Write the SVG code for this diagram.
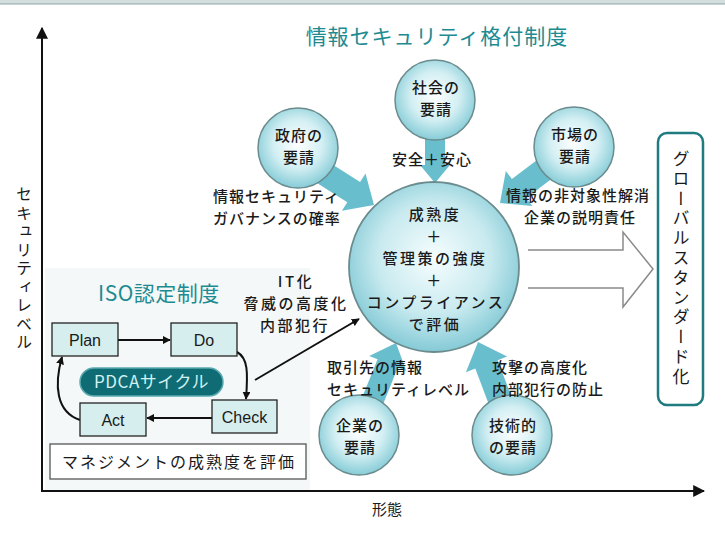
<svg xmlns="http://www.w3.org/2000/svg" width="725" height="540" viewBox="0 0 725 540">
<defs>
<radialGradient id="gc" cx="50%" cy="45%" r="55%">
<stop offset="0%" stop-color="#ffffff"/><stop offset="55%" stop-color="#d3eff3"/><stop offset="100%" stop-color="#86ccd7"/>
</radialGradient>
<radialGradient id="gm" cx="50%" cy="45%" r="55%">
<stop offset="0%" stop-color="#f6fdfe"/><stop offset="60%" stop-color="#c8eaef"/><stop offset="100%" stop-color="#84cad6"/>
</radialGradient>
<marker id="ah" viewBox="0 0 10 10" refX="9" refY="5" markerWidth="8" markerHeight="8" markerUnits="userSpaceOnUse" orient="auto">
<path d="M0,0 L10,5 L0,10 Z" fill="#111"/>
</marker>
<marker id="ahb" viewBox="0 0 10 10" refX="9" refY="5" markerWidth="12" markerHeight="12" markerUnits="userSpaceOnUse" orient="auto">
<path d="M0,0 L10,5 L0,10 Z" fill="#111"/>
</marker>
</defs>
<style>
text{font-family:"Noto Sans CJK JP","Noto Sans",sans-serif;fill:#1a1a1a}
.t{font-size:15px;letter-spacing:1px;font-weight:500}
.c{text-anchor:middle}
.ttl{font-size:21px;fill:#1d8b91;letter-spacing:1px}
.lat{font-family:"Liberation Sans",Arial,sans-serif;font-size:16px;text-anchor:middle}
.circ{fill:url(#gc);stroke:#6b8b8d;stroke-width:1.5}
.ta{fill:#5cb8c9;opacity:0.92}
.box{fill:#d6eeee;stroke:#222;stroke-width:1.3}
.ln{stroke:#111;stroke-width:2;fill:none}
</style>
<rect width="725" height="540" fill="#ffffff"/>
<rect x="0" y="0" width="725" height="4" fill="#d3dede"/>
<line x1="0" y1="4" x2="725" y2="4" stroke="#8fa5a5" stroke-width="1"/>
<rect x="45" y="268" width="265" height="222" fill="#f5f8f8"/>

<g id="axes">
<line x1="42" y1="492" x2="42" y2="28" stroke="#111" stroke-width="2" marker-end="url(#ahb)"/>
<line x1="42" y1="491" x2="704" y2="491" stroke="#111" stroke-width="2" marker-end="url(#ahb)"/>
<text x="24" y="186" style="writing-mode:vertical-rl;letter-spacing:2.5px;font-size:16px">セキュリティレベル</text>
<text class="c" x="387" y="515" font-size="15">形態</text>
</g>

<text class="ttl c" x="437" y="44">情報セキュリティ格付制度</text>

<g id="connectors">
<polygon class="ta" points="307.3,148.5 360.1,182.0 365.5,173.5 374,205 341.9,210.7 347.3,202.2 294.5,168.7"/>
<polygon class="ta" points="425,125 445,125 445,165 450,165 435,183 420,165 425,165"/>
<polygon class="ta" points="566.8,137.4 511.9,178.9 505.8,171.0 500,203 532.4,206.0 526.3,198.1 581.2,156.6"/>
<polygon class="ta" points="349.8,427.9 377.6,359.3 369.2,355.9 396,343 406.3,370.9 397.9,367.5 370.2,436.1"/>
<polygon class="ta" points="500.8,436.2 475.3,368.6 465.9,372.2 478,342 507.1,356.6 497.7,360.2 523.2,427.8"/>
<path d="M528,250 H623 V232 L653,269 L623,307 V288 H528" fill="#ffffff" stroke="#8a8a8a" stroke-width="1.5"/>
<line x1="255" y1="380" x2="359" y2="319" stroke="#111" stroke-width="2" marker-end="url(#ah)"/>
<line x1="118" y1="340" x2="170" y2="340" class="ln" marker-end="url(#ah)"/>
<line x1="212" y1="418" x2="147" y2="418" class="ln" marker-end="url(#ah)"/>
<path d="M237,352 C248,358 248,372 246,399" class="ln" marker-end="url(#ah)"/>
<path d="M80,420 C56,412 54,385 62,357" class="ln" marker-end="url(#ah)"/>
</g>

<g id="center">
<circle cx="434" cy="267" r="85" fill="url(#gm)" stroke="#6b8b8d" stroke-width="1.8"/>
<text class="c" style="font-size:15px;letter-spacing:2.5px;font-weight:500"><tspan x="435" y="220">成熟度</tspan><tspan x="435" y="242">＋</tspan><tspan x="435" y="264">管理策の強度</tspan><tspan x="435" y="286">＋</tspan><tspan x="436" y="308">コンプライアンス</tspan><tspan x="435" y="330">で評価</tspan></text>
</g>

<g id="shakai">
<circle class="circ" cx="435" cy="100" r="40"/>
<text class="t c"><tspan x="436" y="93">社会の</tspan><tspan x="436" y="115">要請</tspan></text>
</g>
<g id="seifu">
<circle class="circ" cx="298" cy="148" r="40"/>
<text class="t c"><tspan x="299" y="141">政府の</tspan><tspan x="299" y="163">要請</tspan></text>
</g>
<g id="shijo">
<circle class="circ" cx="574" cy="147" r="40"/>
<text class="t c"><tspan x="575" y="140">市場の</tspan><tspan x="575" y="162">要請</tspan></text>
</g>
<g id="kigyo">
<circle class="circ" cx="359" cy="435" r="40"/>
<text class="t c"><tspan x="360" y="431">企業の</tspan><tspan x="360" y="453">要請</tspan></text>
</g>
<g id="gijutsu">
<circle class="circ" cx="512" cy="435" r="40"/>
<text class="t c"><tspan x="513" y="431">技術的</tspan><tspan x="513" y="453">の要請</tspan></text>
</g>

<g id="labels">
<text class="t c" x="432" y="165">安全＋安心</text>
<text class="t"><tspan x="213" y="202">情報セキュリティ</tspan><tspan x="213" y="224">ガバナンスの確率</tspan></text>
<text class="t c"><tspan x="578" y="201">情報の非対象性解消</tspan><tspan x="580" y="223">企業の説明責任</tspan></text>
<text class="t c" style="font-size:15px;letter-spacing:2.5px"><tspan x="296" y="287">IT化</tspan><tspan x="296" y="309">脅威の高度化</tspan><tspan x="295" y="331">内部犯行</tspan></text>
<text class="t"><tspan x="327" y="373">取引先の情報</tspan><tspan x="327" y="395">セキュリティレベル</tspan></text>
<text class="t"><tspan x="492" y="373">攻撃の高度化</tspan><tspan x="492" y="395">内部犯行の防止</tspan></text>
</g>

<g id="global">
<rect x="658" y="133" width="45" height="272" rx="9" fill="#ffffff" stroke="#1e7b80" stroke-width="2.5"/>
<text x="681" y="150" style="writing-mode:vertical-rl;letter-spacing:2.8px;font-size:17px">グローバルスタンダード化</text>
</g>

<text class="ttl" x="98" y="301" font-size="20" style="letter-spacing:0.5px">ISO認定制度</text>

<g id="plan"><rect class="box" x="52" y="323" width="66" height="33"/><text class="lat" x="85" y="346">Plan</text></g>
<g id="do"><rect class="box" x="171" y="323" width="66" height="33"/><text class="lat" x="204" y="346">Do</text></g>
<g id="check"><rect class="box" x="212" y="400" width="65" height="33"/><text class="lat" x="244.5" y="423">Check</text></g>
<g id="act"><rect class="box" x="80" y="403" width="66" height="33"/><text class="lat" x="113" y="426">Act</text></g>
<g id="pdca">
<rect x="80" y="368" width="143" height="28" rx="14" fill="#0f6c74" stroke="#5aa9ae" stroke-width="1.5"/>
<text class="c" x="151.5" y="388" font-size="17" style="fill:#d4f1f1;letter-spacing:0.5px">PDCAサイクル</text>
</g>
<g id="mgmt">
<rect x="50" y="444" width="256" height="35" fill="#ffffff" stroke="#555" stroke-width="1.3"/>
<text class="c" x="179" y="468" style="font-size:16px;letter-spacing:2px">マネジメントの成熟度を評価</text>
</g>
</svg>
